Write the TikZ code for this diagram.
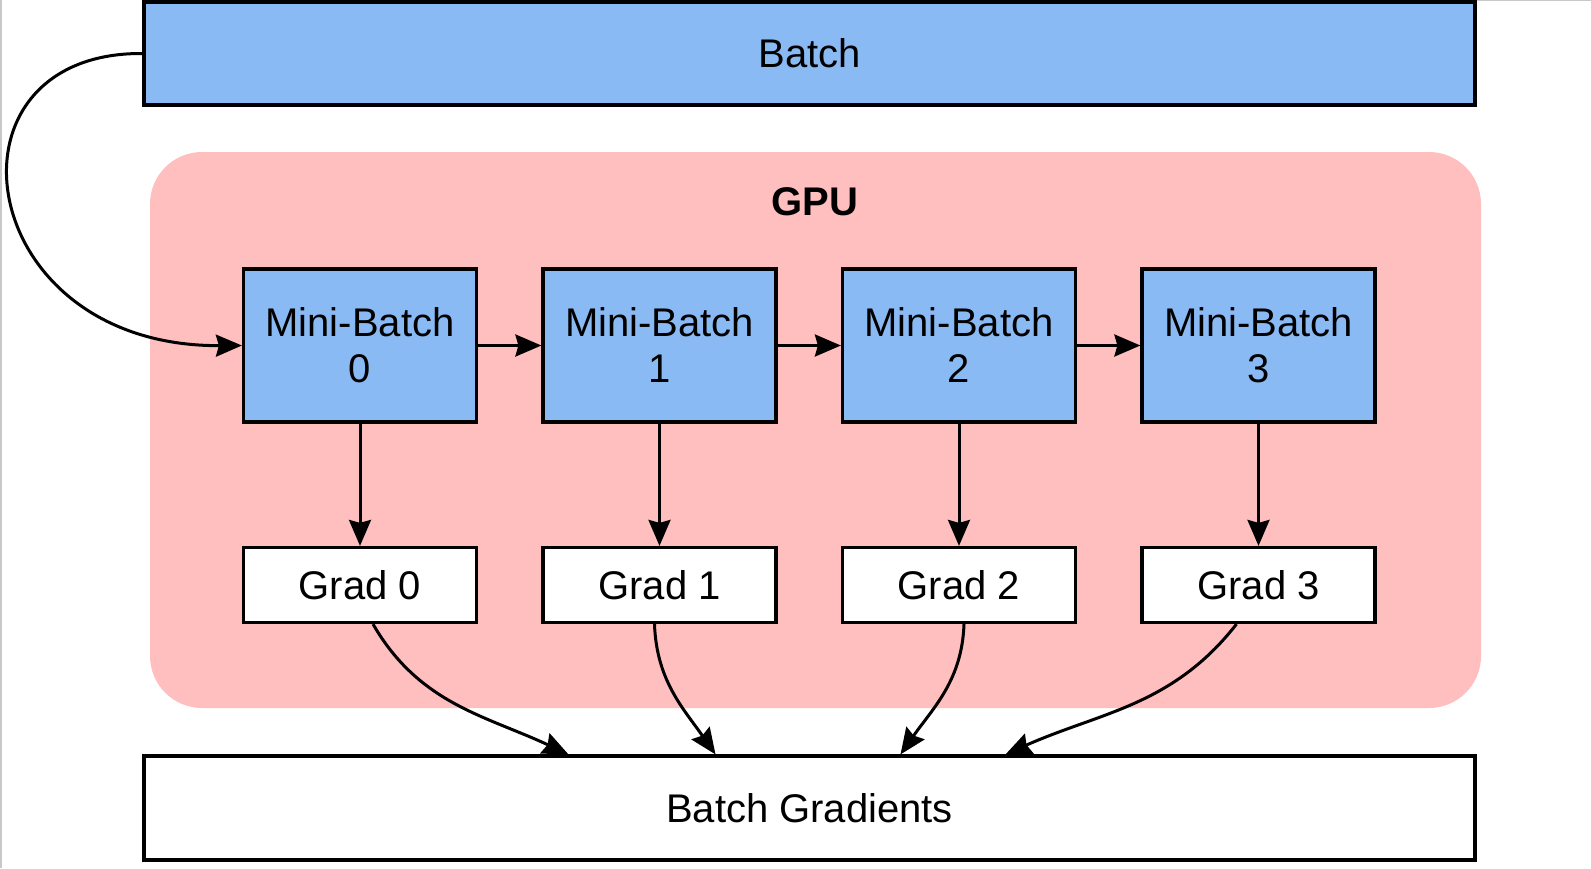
\documentclass[tikz,border=0pt]{standalone}
\usepackage{fontspec}
\setmainfont{Liberation Sans}
\usetikzlibrary{arrows.meta}
\definecolor{boxblue}{RGB}{138,186,243}
\definecolor{gpupink}{RGB}{255,191,191}
\definecolor{framegray}{RGB}{200,200,200}
\begin{document}
\begin{tikzpicture}[x=1pt,y=-1pt,
  every node/.style={font=\fontsize{40}{46}\selectfont, inner sep=0pt, align=center},
  bluebox/.style={draw=black, fill=boxblue, line width=3.2pt},
  whitebox/.style={draw=black, fill=white, line width=3.2pt},
  mbbox/.style={bluebox, minimum width=233pt, minimum height=153pt},
  gradbox/.style={whitebox, minimum width=233pt, minimum height=75pt},
  conn/.style={line width=3pt, -{Stealth[length=26pt, width=22pt, inset=3pt]}}
]
\useasboundingbox (0,0) rectangle (1591,868);
\fill[white] (0,0) rectangle (1591,868);
\draw[framegray, line width=1.5pt] (0.75,0) -- (0.75,868);
\draw[framegray, line width=1pt] (1476,0.5) -- (1591,0.5);

% GPU container
\fill[gpupink, rounded corners=52pt] (150,152) rectangle (1481,708);
\node[font=\fontsize{40}{46}\selectfont\bfseries] (gpu) at (815,202) {GPU};

% Batch
\node[bluebox, minimum width=1331pt, minimum height=103pt] (batch) at (809.5,53.5) {Batch};
% Batch Gradients
\node[whitebox, minimum width=1331pt, minimum height=104pt] (bg) at (809.5,808) {Batch Gradients};

% Mini-batches
\node[mbbox] (mb0) at (360,345.5) {Mini-Batch\\0};
\node[mbbox] (mb1) at (659.5,345.5) {Mini-Batch\\1};
\node[mbbox] (mb2) at (959,345.5) {Mini-Batch\\2};
\node[mbbox] (mb3) at (1258.5,345.5) {Mini-Batch\\3};

% Grads
\node[gradbox] (g0) at (360,585) {Grad 0};
\node[gradbox] (g1) at (659.5,585) {Grad 1};
\node[gradbox] (g2) at (959,585) {Grad 2};
\node[gradbox] (g3) at (1258.5,585) {Grad 3};

% Connectors
\draw[conn] (batch.west) .. controls (-68,52) and (-28,347) .. (mb0.west);
\draw[conn] (mb0.east) -- (mb1.west);
\draw[conn] (mb1.east) -- (mb2.west);
\draw[conn] (mb2.east) -- (mb3.west);
\foreach \i in {0,1,2,3} {
  \draw[conn] (mb\i.south) -- (g\i.north);
}
\draw[conn] ([xshift=13pt]g0.south) to[out=-60, in=155] ([xshift=-241pt]bg.north);
\draw[conn] ([xshift=-5pt]g1.south) to[out=-88, in=125] ([xshift=-94pt]bg.north);
\draw[conn] ([xshift=5pt]g2.south) to[out=-92, in=55] ([xshift=91pt]bg.north);
\draw[conn] ([xshift=-22pt]g3.south) to[out=-128, in=24] ([xshift=196pt]bg.north);
\end{tikzpicture}
\end{document}
